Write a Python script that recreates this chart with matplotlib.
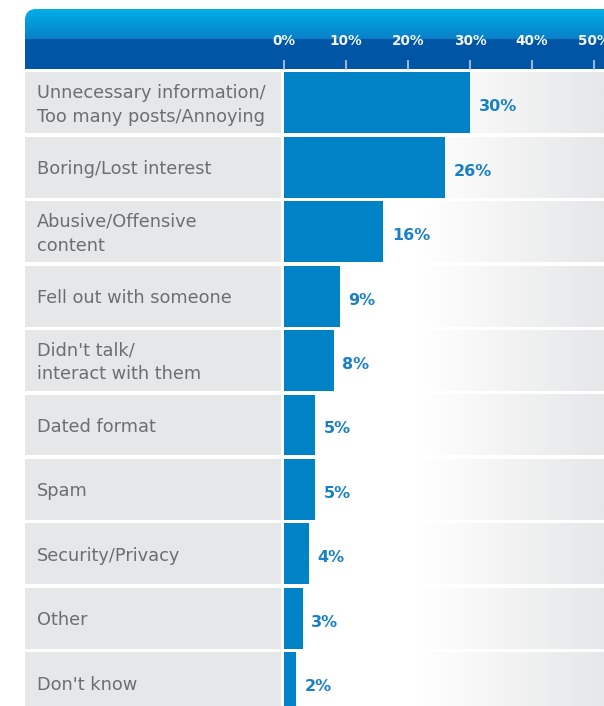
import numpy as np
import matplotlib.pyplot as plt
from matplotlib.patches import Rectangle, FancyBboxPatch
from matplotlib.colors import LinearSegmentedColormap, to_rgb
import matplotlib.transforms as mtransforms

categories = [
    "Unnecessary information/\nToo many posts/Annoying",
    "Boring/Lost interest",
    "Abusive/Offensive\ncontent",
    "Fell out with someone",
    "Didn't talk/\ninteract with them",
    "Dated format",
    "Spam",
    "Security/Privacy",
    "Other",
    "Don't know",
]
values = [30, 26, 16, 9, 8, 5, 5, 4, 3, 2]
tick_values = [0, 10, 20, 30, 40, 50]
tick_labels = ["0%", "10%", "20%", "30%", "40%", "50%"]

W, H = 604, 706
BAR_BLUE = "#0082c6"
LABEL_BLUE = "#1a80c6"
PANEL_GREY = "#e6e7e8"
TEXT_GREY = "#6d6e71"

fig = plt.figure(figsize=(W / 100, H / 100), dpi=100)
fig.patch.set_facecolor("white")

# background layer in pixel coordinates for the header strip
bg = fig.add_axes([0, 0, 1, 1])
bg.set_xlim(0, W)
bg.set_ylim(H, 0)
bg.axis("off")

top_c = np.array(to_rgb("#00aee8"))
mid_c = np.array(to_rgb("#0a80c8"))
band_c = np.array(to_rgb("#0055a5"))
rows_px = []
for yy in range(60):
    if yy < 30:
        t = yy / 29
        rows_px.append(top_c * (1 - t) + mid_c * t)
    else:
        rows_px.append(band_c)
header = np.repeat(np.array(rows_px).reshape(60, 1, 3), 4, axis=1)
img = bg.imshow(header, extent=(25, W + 20, 69, 9), aspect="auto", interpolation="nearest")
clip = FancyBboxPatch((25, 9), W, 120, boxstyle="round,pad=0,rounding_size=11",
                      transform=bg.transData, facecolor="none", edgecolor="none")
bg.add_patch(clip)
img.set_clip_path(clip)

# bar area: 0% starts at x=284px, 6.2 px per percent
ax = fig.add_axes([284 / W, 0, (W - 284) / W, (H - 70) / H])
ax.patch.set_visible(False)
xmax = (W - 284) / 6.2
n = len(categories)
rows = np.arange(n)
h = 0.947

fade = LinearSegmentedColormap.from_list(
    "fade", [(0, "white"), (0.42, "white"), (1, PANEL_GREY)])
grad = np.linspace(0, 1, 256).reshape(1, -1)
trans = mtransforms.blended_transform_factory(ax.transAxes, ax.transData)
for i in rows:
    ax.imshow(grad, extent=(0, xmax, i + h / 2, i - h / 2), aspect="auto",
              cmap=fade, zorder=0)
    ax.add_patch(Rectangle((-259 / 320, i - h / 2), 256 / 320, h, transform=trans,
                           facecolor=PANEL_GREY, edgecolor="none", clip_on=False, zorder=0))
    ax.text(-247 / 320, i + 0.03, categories[i], transform=trans, ha="left", va="center",
            fontsize=12.8, color=TEXT_GREY, linespacing=1.42, clip_on=False)

ax.barh(rows, values, height=h, color=BAR_BLUE, edgecolor="none", zorder=2)
for i, v in zip(rows, values):
    ax.text(v + 1.4, i + 0.06, f"{v}%", ha="left", va="center", fontsize=11.5,
            fontweight="bold", color=LABEL_BLUE, zorder=3)

ax.set_xlim(0, xmax)
ax.set_ylim(9.363, -0.512)
ax.xaxis.tick_top()
ax.set_xticks(tick_values)
ax.set_xticklabels(tick_labels, fontweight="bold")
ax.tick_params(axis="x", length=7.5, width=1.2, color="#b4cde8", labelcolor="#f2f6fb",
               labelsize=9.8, pad=8.5, direction="out")
ax.tick_params(axis="y", left=False, labelleft=False)
for s in ax.spines.values():
    s.set_visible(False)

fig.savefig("out.png", dpi=100)
